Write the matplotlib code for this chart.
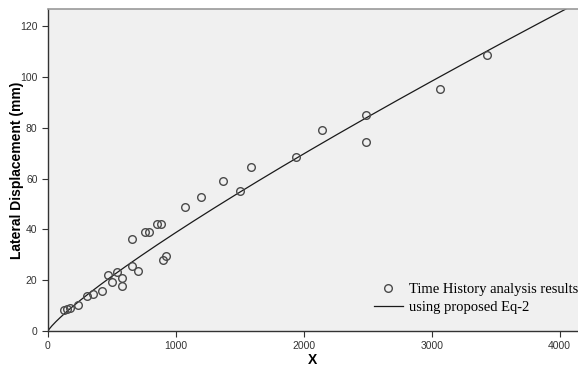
import numpy as np
import matplotlib.pyplot as plt

# Time history analysis results
x_th = [125, 150, 175, 232, 302, 349, 420, 466, 503, 537, 581, 581,
        659, 659, 706, 758, 790, 850, 881, 901, 920, 1071, 1199, 1371,
        1501, 1587, 1942, 2145, 2484, 2484, 3065, 3430]
y_th = [8.2, 8.7, 9.0, 10.2, 13.8, 14.6, 15.7, 22.2, 19.2, 23.3, 21.0, 17.6,
        36.2, 25.7, 23.5, 38.9, 38.9, 42.0, 42.0, 28.0, 29.6, 48.8, 52.6, 58.9,
        55.2, 64.4, 68.4, 79.3, 85.0, 74.4, 95.2, 108.7]

# proposed Eq-2, power law y = a * x^b (coefficients estimated from the curve)
eq_a = 0.1116
eq_b = 0.847

x_ticks = [0, 1000, 2000, 3000, 4000]
y_ticks = [0, 20, 40, 60, 80, 100, 120]

fig = plt.figure(figsize=(5.78, 3.73), dpi=100)
ax = fig.add_axes([0.083, 0.1126, 0.917, 0.8633])
ax.set_facecolor('#f0f0f0')

xs = np.linspace(0, 4200, 400)
ax.plot(xs, eq_a * xs ** eq_b, color='#1a1a1a', linewidth=0.9,
        label='using proposed Eq-2', zorder=2)
ax.plot(x_th, y_th, linestyle='none', marker='o', markersize=5.5,
        markerfacecolor='none', markeredgecolor='#4a4a4a', markeredgewidth=1.0,
        label='Time History analysis results', zorder=3)

ax.set_xlim(0, 4144)
ax.set_ylim(0, 126.8)
ax.set_xticks(x_ticks)
ax.set_yticks(y_ticks)
ax.tick_params(direction='out', length=4, width=0.8, colors='#333333',
               labelsize=7.5, labelcolor='#333333')
for lab in ax.get_xticklabels() + ax.get_yticklabels():
    lab.set_family('Liberation Sans')

for side in ['left', 'bottom']:
    ax.spines[side].set_color('#333333')
    ax.spines[side].set_linewidth(1.0)
ax.spines['top'].set_color('#999999')
ax.spines['top'].set_linewidth(1.2)
ax.spines['right'].set_visible(False)

ax.set_xlabel('X', fontsize=10, fontweight='bold', family='Liberation Sans',
              labelpad=1)
ax.set_ylabel('Lateral Displacement (mm)', fontsize=10, fontweight='bold',
              family='Liberation Sans')
ax.yaxis.set_label_coords(-0.046, 0.5)

handles, labels = ax.get_legend_handles_labels()
leg = ax.legend(handles[::-1], labels[::-1], loc='lower left',
                bbox_to_anchor=(0.595, 0.02), frameon=False,
                prop={'family': 'Liberation Serif', 'size': 10.5},
                handlelength=2.0, handletextpad=0.45, labelspacing=0.35,
                borderaxespad=0.3)

fig.savefig('out.png', dpi=100)
